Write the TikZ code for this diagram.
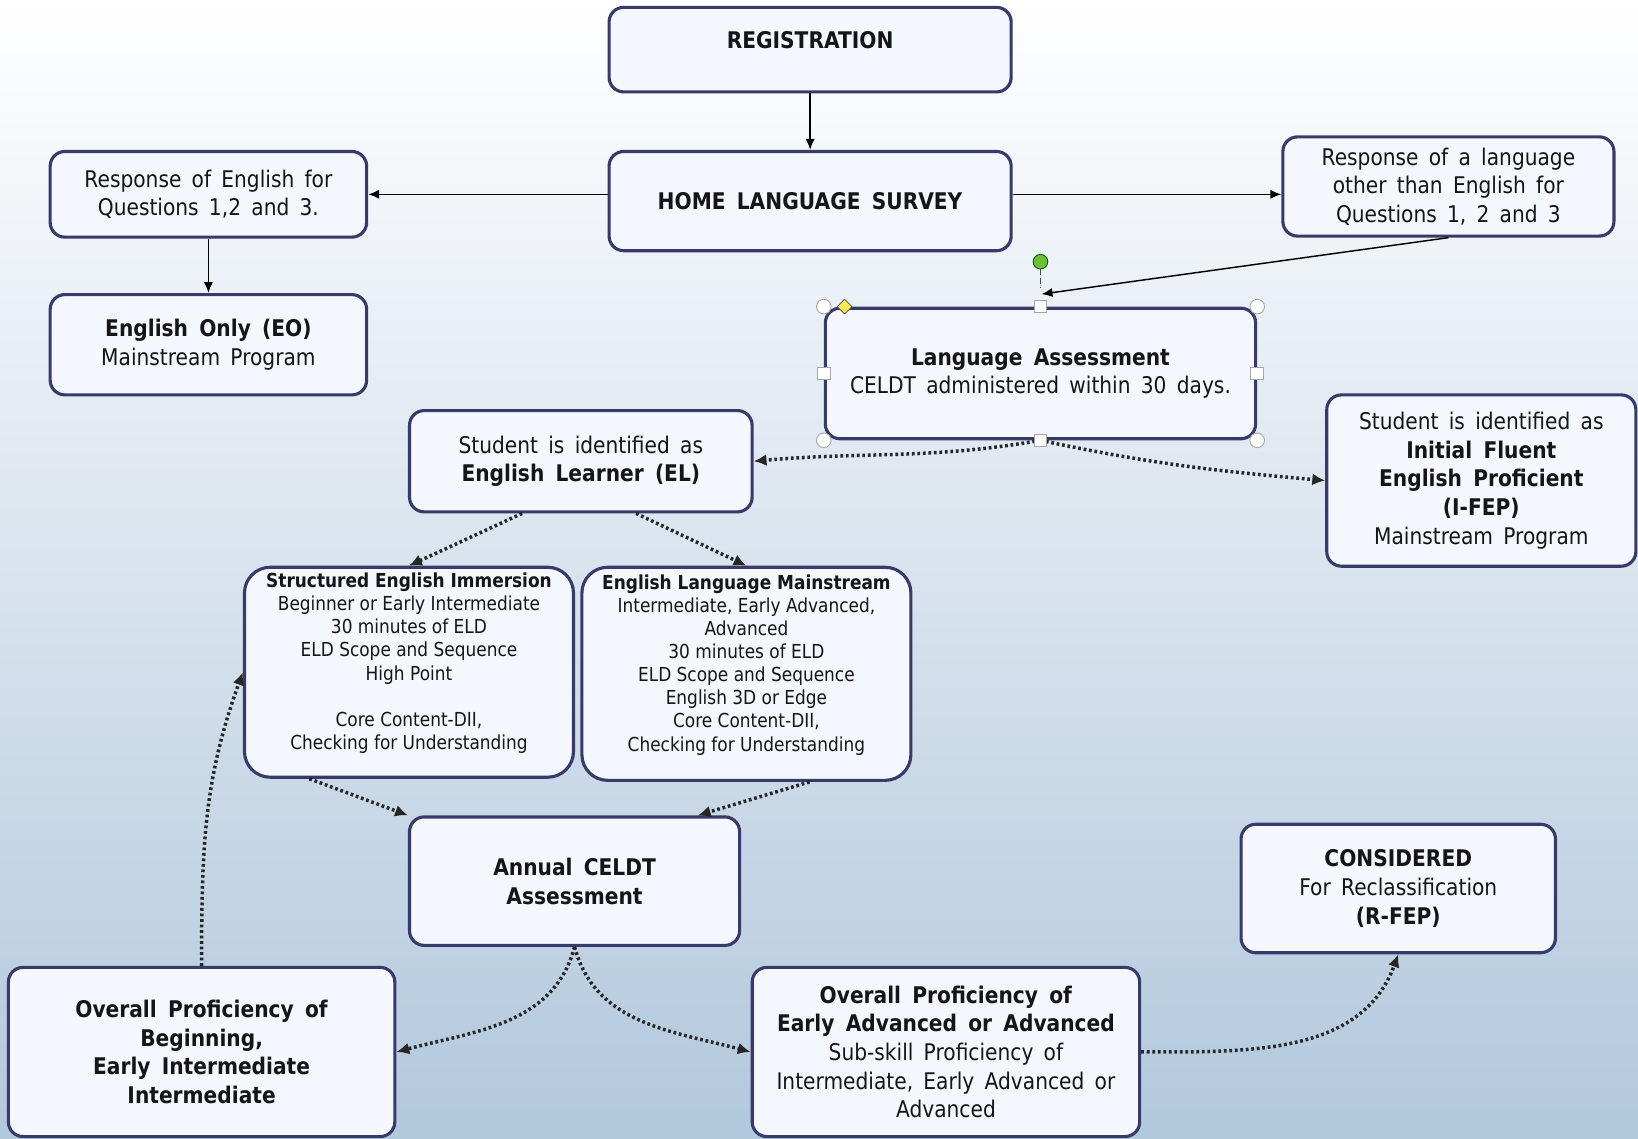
\documentclass[tikz,border=0pt]{standalone}
\usepackage{fontspec}
\setmainfont[FakeStretch=0.88,WordSpace=1.6]{DejaVu Sans}
\newfontfamily\narrowfont[FakeStretch=0.88]{DejaVu Sans}
\usepackage{xcolor}
\usepackage{tikz}
\usetikzlibrary{positioning,calc,arrows.meta,shapes.geometric}

\definecolor{boxline}{RGB}{56,58,106}
\definecolor{boxfill}{RGB}{244,247,253}
\definecolor{txt}{RGB}{20,20,25}
\definecolor{bgmid}{RGB}{230,236,245}
\definecolor{bgbot}{RGB}{178,200,221}
\definecolor{handlegreen}{RGB}{110,190,60}
\definecolor{handleyellow}{RGB}{250,235,90}

\begin{document}
\begin{tikzpicture}[
	x=0.02cm, y=-0.02cm,
	box/.style={                % Khung bo tron
		draw=boxline, fill=boxfill,
		line width=1.7pt,
		rounded corners=8pt,
		align=center, inner sep=2pt,
		text=txt,
		font=\fontsize{12.5}{15.6}\selectfont
	},
	prog/.style={               % Khung chuong trinh (chu hep)
		box, rounded corners=14pt,
		text depth=12pt,
		font=\narrowfont\fontsize{10.5}{12.6}\selectfont
	},
	arr/.style={                % Mui ten lien
		-{Latex[length=6pt,width=5pt]},
		line width=0.8pt, black
	},
	dotarr/.style={             % Mui ten cham
		-{Latex[length=7pt,width=6.5pt]},
		line width=1.9pt, dash pattern=on 1.5pt off 1.5pt,
		black!85
	},
	handle/.style={draw=gray!70, fill=white, line width=0.5pt}
	]
	% --- NEN ---
	\useasboundingbox (0,0) rectangle (1568,1090);
	\shade[top color=white, middle color=bgmid, bottom color=bgbot] (0,0) rectangle (1568,1090);

	% --- HANG 1: dang ky va khao sat ---
	\node[box, minimum width=7.7cm, minimum height=1.62cm, text depth=11pt] (reg) at (775.5,47.5) {\textbf{REGISTRATION}};
	\node[box, minimum width=7.7cm, minimum height=1.9cm] (hls) at (775.5,192.5) {\textbf{HOME LANGUAGE SURVEY}};
	\node[box, minimum width=6.06cm, minimum height=1.64cm] (respEng) at (199.5,186) {Response of English for\\Questions 1,2 and 3.};
	\node[box, minimum width=6.34cm, minimum height=1.9cm] (respOth) at (1386.5,178.5) {Response of a language\\other than English for\\Questions 1, 2 and 3};
	\node[box, minimum width=6.06cm, minimum height=1.92cm] (eo) at (199.5,330) {\textbf{English Only (EO)}\\Mainstream Program};

	% --- HANG 2: danh gia ---
	\node[box, minimum width=8.24cm, minimum height=2.5cm] (la) at (996,357.5) {\textbf{Language Assessment}\\CELDT administered within 30 days.};
	\node[box, minimum width=6.56cm, minimum height=1.94cm] (el) at (556,441.5) {Student is identified as\\\textbf{English Learner (EL)}};
	\node[box, minimum width=5.92cm, minimum height=3.28cm] (ifep) at (1418,460) {Student is identified as\\\textbf{Initial Fluent}\\\textbf{English Proficient}\\\textbf{(I-FEP)}\\Mainstream Program};

	% --- HANG 3: chuong trinh ---
	\node[prog, minimum width=6.3cm, minimum height=4.02cm] (sei) at (391.5,643.5) {\textbf{Structured English Immersion}\\Beginner or Early Intermediate\\30 minutes of ELD\\ELD Scope and Sequence\\High Point\\[12.6pt]Core Content-DII,\\Checking for Understanding};
	\node[prog, minimum width=6.3cm, minimum height=4.08cm] (elm) at (714.5,645) {\textbf{English Language Mainstream}\\Intermediate, Early Advanced,\\Advanced\\30 minutes of ELD\\ELD Scope and Sequence\\English 3D or Edge\\Core Content-DII,\\Checking for Understanding};

	% --- HANG 4: danh gia hang nam ---
	\node[box, minimum width=6.32cm, minimum height=2.46cm] (annual) at (550,843.5) {\textbf{Annual CELDT}\\\textbf{Assessment}};
	\node[box, minimum width=6.02cm, minimum height=2.46cm] (cons) at (1338.5,850.5) {\textbf{CONSIDERED}\\For Reclassification\\\textbf{(R-FEP)}};
	\node[box, minimum width=7.4cm, minimum height=3.24cm] (ovb) at (193,1007) {\textbf{Overall Proficiency of}\\\textbf{Beginning,}\\\textbf{Early Intermediate}\\\textbf{Intermediate}};
	\node[box, minimum width=7.42cm, minimum height=3.24cm] (ovea) at (905.5,1007) {\textbf{Overall Proficiency of}\\\textbf{Early Advanced or Advanced}\\Sub-skill Proficiency of\\Intermediate, Early Advanced or\\Advanced};

	% --- MUI TEN LIEN ---
	\draw[arr] (reg) -- (hls);
	\draw[arr] (hls.west |- respEng.east) -- (respEng.east);
	\draw[arr] (hls.east |- respEng.east) -- (respOth.west |- respEng.east);
	\draw[arr] (respEng) -- (eo);
	\coordinate (laIn) at ($(la.north)+(1,-12)$);
	\draw[arr] (respOth.south) -- (laIn);

	% --- MUI TEN CHAM ---
	\draw[dotarr] (la.south) to[out=190, in=5] (el.east);
	\draw[dotarr] (la.south) to[out=-12, in=175] (ifep.west);
	\draw[dotarr] ($(el.south west)!0.33!(el.south east)$) -- (sei.north);
	\draw[dotarr] ($(el.south west)!0.66!(el.south east)$) -- (elm.north);
	\draw[dotarr] ($(sei.south west)!0.2!(sei.south east)$) -- (annual.north west);
	\draw[dotarr] ($(elm.south west)!0.69!(elm.south east)$) -- ($(annual.north west)!0.87!(annual.north east)$);
	\draw[dotarr] (annual.south) to[out=-105, in=15] (ovb.east);
	\draw[dotarr] (annual.south) to[out=-75, in=165] (ovea.west);
	\draw[dotarr] (ovb.north) to[out=90, in=250] (sei.west);
	\draw[dotarr] (ovea.east) to[out=0, in=-110] (cons.south);

	% --- TAY NAM CHON (khung Language Assessment) ---
	\foreach \c in {north west, north east, south west, south east}
		\draw[handle] (la.\c) circle[radius=0.14cm];
	\foreach \c in {north, south, west, east}
		\draw[handle] ($(la.\c)+(-6,-6)$) rectangle ++(12,12);
	\draw[draw=gray!60!black, fill=handleyellow, line width=0.4pt]
		($(la.north west)+(20,-7)$) -- ++(7,7) -- ++(-7,7) -- ++(-7,-7) -- cycle;
	\draw[densely dashed, gray!60!black, line width=0.5pt] ($(la.north)+(0,-36)$) -- ($(la.north)+(0,-18)$);
	\draw[draw=green!40!black, fill=handlegreen, line width=0.5pt] ($(la.north)+(0,-43)$) circle[radius=0.14cm];
\end{tikzpicture}
\end{document}
